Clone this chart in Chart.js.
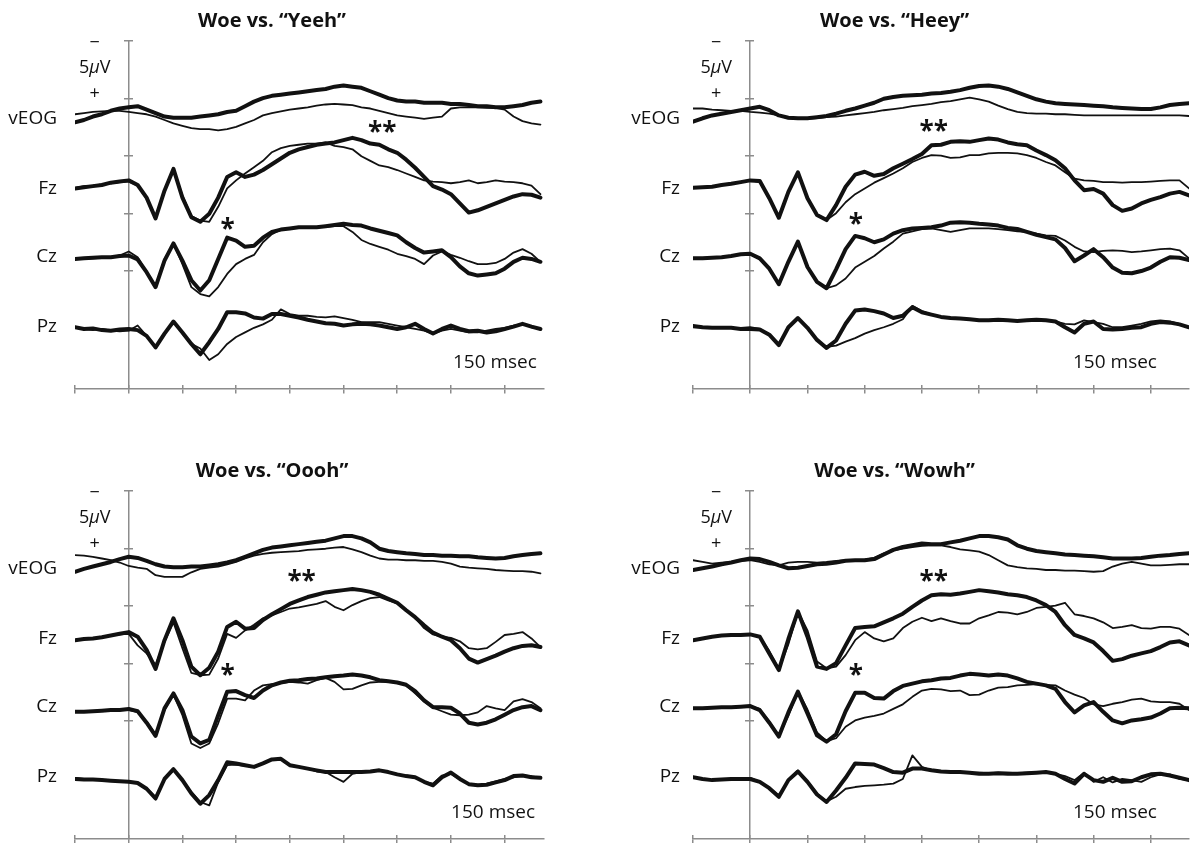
<!DOCTYPE html>
<html lang="en">
<head>
<meta charset="utf-8">
<title>Woe ERP comparisons</title>
<script src="https://cdn.jsdelivr.net/npm/chart.js@4.4.1/dist/chart.umd.min.js"></script>
<style>
  html, body { margin: 0; padding: 0; background: #fff; overflow: hidden; width: 1193px; height: 843px; }
  canvas { position: absolute; }
</style>
</head>
<body>
<canvas id="yeehChart" width="684" height="420" style="left:0;top:0"></canvas>
<canvas id="heeyChart" width="730" height="420" style="left:600px;top:0"></canvas>
<canvas id="ooohChart" width="684" height="420" style="left:0;top:450px"></canvas>
<canvas id="wowhChart" width="730" height="420" style="left:600px;top:450px"></canvas>
<script>
// time axis (msec from stimulus onset), one sample every 25 ms
const TIMES = [-150,-125,-100,-75,-50,-25,0,25,50,75,100,125,150,175,200,225,250,275,300,325,350,375,400,425,450,475,500,525,550,575,600,625,650,675,700,725,750,775,800,825,850,875,900,925,950,975,1000,1025,1050,1075,1100,1125,1150];
const TIME_TICKS = [-150, 0, 150, 300, 450, 600, 750, 900, 1050];
const SCALE_TICKS = [0, 5, 10, 15, 20];          // 5 µV apart
const CHANNELS = ["vEOG", "Fz", "Cz", "Pz"];

// µV, negative up.  thick = first condition, thin = second
const yeehVeogThick = [0.6,0.4,0.1,-0.1,-0.4,-0.6,-0.7,-0.8,-0.5,-0.2,0.1,0.2,0.2,0.2,0.1,0.0,-0.1,-0.3,-0.4,-0.8,-1.2,-1.5,-1.7,-1.8,-1.9,-2.0,-2.1,-2.2,-2.3,-2.5,-2.6,-2.5,-2.4,-2.1,-1.8,-1.5,-1.3,-1.2,-1.2,-1.1,-1.1,-1.1,-1.0,-1.0,-0.9,-0.8,-0.8,-0.7,-0.7,-0.8,-0.9,-1.1,-1.2];
const yeehVeogThin  = [-0.1,-0.2,-0.3,-0.35,-0.4,-0.4,-0.3,-0.2,-0.1,0.1,0.4,0.7,0.9,1.1,1.2,1.2,1.3,1.2,1.0,0.7,0.4,0.0,-0.2,-0.35,-0.5,-0.6,-0.7,-0.85,-0.95,-1.0,-0.95,-0.9,-0.7,-0.6,-0.4,-0.2,0.0,0.1,0.2,0.3,0.2,0.1,-0.6,-0.7,-0.7,-0.7,-0.65,-0.65,-0.5,0.1,0.5,0.7,0.8];
const yeehFzThick   = [0.4,0.3,0.2,0.1,-0.1,-0.2,-0.3,0.1,1.2,3.0,0.6,-1.3,1.2,2.9,3.3,2.6,1.2,-0.6,-1.0,-0.6,-0.8,-1.2,-1.7,-2.2,-2.7,-3.0,-3.2,-3.4,-3.5,-3.6,-3.8,-4.0,-3.8,-3.5,-3.4,-3.0,-2.7,-2.1,-1.4,-0.6,0.2,0.5,0.9,1.7,2.5,2.3,2.0,1.7,1.4,1.1,0.9,0.95,1.2];
const yeehFzThin    = [0.35,0.2,0.15,0.05,-0.05,-0.15,-0.2,0.15,1.3,2.9,0.7,-1.3,1.0,2.8,3.2,3.3,2.0,0.4,-0.3,-0.9,-1.45,-2.0,-2.75,-3.1,-3.3,-3.4,-3.5,-3.5,-3.6,-3.3,-3.2,-3.0,-2.4,-2.0,-1.6,-1.45,-1.2,-0.9,-0.6,-0.3,-0.2,-0.15,-0.05,-0.15,-0.3,-0.05,-0.15,-0.3,-0.2,-0.15,-0.05,0.15,0.9];
const yeehCzThick   = [0.15,0.1,0.05,0,0,-0.1,-0.15,0.2,1.3,2.6,0.3,-1.2,0.3,2.0,2.9,2.0,0.15,-1.7,-1.45,-0.9,-1.0,-1.7,-2.2,-2.4,-2.5,-2.6,-2.6,-2.6,-2.7,-2.8,-2.9,-2.8,-2.75,-2.5,-2.3,-2.1,-1.9,-1.3,-0.8,-0.4,-0.5,-0.6,0,0.8,1.4,1.6,1.5,1.4,1.0,0.4,0.05,0.15,0.4];
const yeehCzThin    = [0.15,0.15,0.1,0.05,0,-0.15,-0.5,0,1.3,2.5,0.15,-1.2,0.6,2.6,3.2,3.4,2.6,1.45,0.6,0.15,-0.2,-1.3,-2.0,-2.4,-2.5,-2.55,-2.6,-2.6,-2.65,-2.7,-2.7,-2.2,-1.5,-1.15,-0.9,-0.65,-0.3,-0.1,0.15,0.6,-0.15,-0.5,-0.2,0.05,0.35,0.6,0.6,0.5,0.15,-0.4,-0.7,-0.3,0.4];
const yeehPzThick   = [-0.15,0,-0.05,0.1,0.15,0.05,0,0.1,0.6,1.6,0.4,-0.65,0.3,1.3,2.2,1.15,0,-1.45,-1.45,-1.35,-1.0,-0.9,-1.3,-1.3,-1.15,-1.0,-0.8,-0.65,-0.5,-0.45,-0.3,-0.4,-0.45,-0.4,-0.3,-0.15,0,-0.15,-0.45,0,0.4,0,-0.3,0,0.2,0.15,0.3,0.2,0,-0.2,-0.45,-0.2,0];
const yeehPzThin    = [-0.1,0,0.1,0,0.15,0.2,0.15,-0.3,0.6,1.5,0.4,-0.6,0.4,1.3,1.7,2.7,2.2,1.3,0.7,0.3,-0.1,-0.4,-0.8,-1.7,-1.3,-1.15,-1.15,-1.05,-1.0,-1.1,-0.95,-0.8,-0.6,-0.6,-0.6,-0.45,-0.3,-0.15,0,0.15,0.4,0.15,0,0.15,0.3,0.3,0.15,0,-0.1,-0.3,-0.45,-0.15,0];

const heeyVeogThick = [0.55,0.25,0,-0.15,-0.3,-0.45,-0.6,-0.75,-0.45,0,0.2,0.25,0.25,0.15,0.05,-0.15,-0.4,-0.6,-0.85,-1.1,-1.45,-1.6,-1.7,-1.75,-1.8,-1.9,-1.95,-2.05,-2.2,-2.4,-2.55,-2.6,-2.5,-2.3,-2.0,-1.7,-1.4,-1.2,-1.05,-1.0,-0.95,-0.9,-0.85,-0.8,-0.7,-0.65,-0.6,-0.55,-0.55,-0.7,-0.9,-1.0,-1.05];
const heeyVeogThin  = [-0.6,-0.6,-0.5,-0.45,-0.4,-0.4,-0.3,-0.25,-0.15,0,0.25,0.3,0.3,0.25,0.15,0.1,0,-0.1,-0.2,-0.3,-0.45,-0.55,-0.65,-0.8,-0.9,-1.0,-1.15,-1.25,-1.4,-1.55,-1.4,-1.2,-0.85,-0.55,-0.3,-0.2,-0.15,-0.15,-0.1,-0.1,-0.05,0,0,0,0,0,0,0,0,0,0,0,0.05];
const heeyFzThick   = [0.35,0.3,0.25,0.1,0,-0.15,-0.3,-0.25,1.25,2.95,0.7,-1.0,1.25,2.7,3.15,1.85,0.25,-0.8,-1.05,-0.7,-0.85,-1.35,-1.75,-2.15,-2.6,-3.35,-3.4,-3.65,-3.7,-3.65,-3.8,-3.95,-3.85,-3.6,-3.45,-3.35,-2.9,-2.5,-2.05,-1.35,-0.3,0.55,0.45,0.85,1.85,2.35,2.15,1.7,1.4,1.15,0.85,0.7,1.0];
const heeyFzThin    = [0.35,0.3,0.25,0.1,0,-0.15,-0.3,-0.15,1.3,2.9,0.8,-0.95,1.2,2.65,3.15,2.55,1.6,0.9,0.4,-0.1,-0.5,-0.9,-1.35,-1.9,-2.25,-2.5,-2.45,-2.25,-2.3,-2.5,-2.5,-2.65,-2.7,-2.7,-2.65,-2.5,-2.25,-1.9,-1.6,-1.0,-0.45,-0.3,-0.25,-0.15,-0.15,-0.1,-0.15,-0.15,-0.2,-0.25,-0.3,-0.3,0.4];
const heeyCzThick   = [0.1,0.1,0.05,0,-0.1,-0.25,-0.3,0.1,1.0,2.35,0.4,-1.35,0.85,2.15,2.7,1.05,-0.7,-1.85,-1.65,-1.3,-1.55,-2.05,-2.35,-2.5,-2.55,-2.6,-2.75,-3.0,-3.05,-3.0,-2.9,-2.85,-2.75,-2.55,-2.45,-2.2,-1.95,-1.75,-1.55,-0.8,0.35,-0.15,-0.7,0,0.9,1.35,1.4,1.2,0.9,0.4,0,0.05,0.25];
const heeyCzThin    = [0.1,0.1,0.05,0,-0.1,-0.25,-0.3,0.1,0.95,2.3,0.45,-1.35,0.9,2.2,2.7,2.45,1.85,0.9,0.4,-0.1,-0.75,-1.35,-2.05,-2.25,-2.45,-2.5,-2.35,-2.2,-2.35,-2.5,-2.5,-2.5,-2.45,-2.35,-2.25,-2.2,-2.05,-1.9,-1.85,-1.45,-0.9,-0.5,-0.45,-0.55,-0.6,-0.55,-0.45,-0.5,-0.6,-0.7,-0.75,-0.6,0.1];
const heeyPzThick   = [-0.25,-0.15,-0.1,-0.1,-0.1,0,0,0.05,0.5,1.4,-0.15,-0.95,-0.1,0.95,1.65,1.0,-0.45,-1.6,-1.7,-1.55,-1.35,-0.95,-1.15,-1.9,-1.45,-1.25,-1.05,-0.95,-0.9,-0.85,-0.75,-0.75,-0.8,-0.75,-0.7,-0.75,-0.8,-0.75,-0.65,-0.15,0.3,-0.45,-0.65,0,0.05,0,-0.1,-0.15,-0.45,-0.6,-0.55,-0.4,-0.15];
const heeyPzThin    = [-0.15,-0.15,-0.1,-0.1,-0.1,-0.1,-0.15,0,0.45,1.25,-0.1,-0.9,-0.05,1.0,1.55,1.45,1.1,0.8,0.4,0.1,-0.15,-0.45,-0.85,-2.0,-1.55,-1.25,-1.05,-0.95,-0.9,-0.85,-0.75,-0.75,-0.75,-0.7,-0.7,-0.7,-0.75,-0.7,-0.65,-0.45,-0.4,-0.75,-0.6,-0.45,-0.15,-0.15,-0.3,-0.45,-0.65,-0.75,-0.65,-0.45,-0.15];

const ooohVeogThick = [0.55,0.3,0.1,-0.1,-0.3,-0.55,-0.75,-0.65,-0.4,-0.1,0.1,0.15,0.15,0.1,0.1,0,-0.1,-0.25,-0.45,-0.75,-1.05,-1.35,-1.55,-1.65,-1.75,-1.85,-1.95,-2.05,-2.15,-2.35,-2.55,-2.55,-2.35,-2.0,-1.45,-1.25,-1.15,-1.05,-1.0,-0.9,-0.9,-0.85,-0.85,-0.8,-0.8,-0.7,-0.65,-0.6,-0.65,-0.8,-0.9,-1.0,-1.05];
const ooohVeogThin  = [-0.9,-0.85,-0.75,-0.6,-0.45,-0.25,0.05,0.2,0.3,0.85,1.0,1.0,1.0,0.6,0.3,0.2,0.1,-0.1,-0.3,-0.6,-0.85,-1.0,-1.1,-1.15,-1.2,-1.25,-1.35,-1.4,-1.45,-1.55,-1.6,-1.4,-1.15,-0.85,-0.6,-0.5,-0.5,-0.45,-0.45,-0.4,-0.4,-0.3,-0.15,0.1,0.2,0.25,0.3,0.4,0.45,0.5,0.5,0.55,0.7];
const ooohFzThick   = [0.55,0.45,0.4,0.3,0.15,0,-0.15,0.25,1.4,3.05,0.55,-1.35,0.55,2.85,3.6,2.95,1.55,-0.6,-1.05,-0.45,-0.5,-1.2,-1.7,-2.15,-2.6,-2.9,-3.2,-3.4,-3.6,-3.7,-3.8,-3.9,-3.8,-3.65,-3.4,-3.05,-2.7,-2.05,-1.45,-0.75,-0.1,0.25,0.55,1.25,2.15,2.5,2.2,1.9,1.55,1.25,1.05,1.0,1.15];
const ooohFzThin    = [0.55,0.45,0.4,0.3,0.15,0.05,0,1.0,1.7,2.7,0.7,-1.0,1.25,3.4,3.6,3.55,2.15,0,0.35,-0.3,-0.8,-1.35,-1.6,-1.9,-2.2,-2.3,-2.45,-2.6,-2.85,-2.35,-2.05,-2.5,-2.85,-3.1,-3.2,-2.9,-2.65,-2.05,-1.4,-0.5,0.05,0.25,0.35,0.65,1.25,1.35,1.25,0.7,0.1,0,-0.15,0.4,1.15];
const ooohCzThick   = [0.4,0.4,0.35,0.3,0.25,0.25,0.15,0.35,1.35,2.5,0.1,-1.2,0.25,2.55,3.15,2.85,0.7,-1.35,-1.4,-1.05,-0.8,-1.45,-1.9,-2.15,-2.3,-2.35,-2.45,-2.5,-2.6,-2.7,-2.75,-2.85,-2.75,-2.6,-2.35,-2.25,-2.15,-1.95,-1.4,-0.6,0,0,0.05,0.55,1.35,1.5,1.35,1.05,0.65,0.25,0,-0.1,0.25];
const ooohCzThin    = [0.4,0.4,0.35,0.3,0.25,0.25,0.25,0.4,1.25,2.35,0.25,-1.1,0.7,3.15,3.55,3.15,1.4,-0.75,-0.75,-0.6,-1.45,-1.9,-2.0,-2.1,-2.2,-2.15,-2.05,-2.35,-2.55,-2.2,-1.55,-1.6,-1.9,-2.15,-2.2,-2.2,-2.15,-1.9,-1.2,-0.5,0.05,0.35,0.65,0.7,0.65,0.45,-0.1,0.1,0.25,-0.5,-0.7,-0.45,0.1];
const ooohPzThick   = [0,0.05,0.05,0.1,0.15,0.2,0.25,0.35,0.85,1.7,0,-0.85,0.1,1.25,2.15,1.4,0.1,-1.45,-1.35,-1.2,-1.05,-1.35,-1.7,-1.75,-1.2,-1.05,-0.9,-0.75,-0.6,-0.6,-0.6,-0.6,-0.6,-0.65,-0.75,-0.6,-0.4,-0.25,-0.15,0.25,0.55,-0.15,-0.55,0,0.45,0.55,0.5,0.3,0.1,-0.25,-0.3,-0.15,-0.1];
const ooohPzThin    = [-0.1,0,0.05,0.1,0.15,0.2,0.25,0.3,0.8,1.55,0.05,-0.75,0.05,1.15,2.0,2.3,0.25,-1.2,-1.25,-1.15,-1.05,-1.35,-1.7,-1.75,-1.2,-1.05,-0.9,-0.65,-0.6,-0.15,0.25,-0.45,-0.6,-0.65,-0.75,-0.6,-0.4,-0.25,-0.1,0.25,0.4,-0.3,-0.45,0.05,0.4,0.55,0.4,0.2,0,-0.15,-0.3,-0.25,-0.1];

const wowhVeogThick = [0.4,0.25,0.1,-0.1,-0.25,-0.45,-0.6,-0.55,-0.3,0,0.25,0.2,0.05,-0.1,-0.15,-0.25,-0.4,-0.45,-0.45,-0.55,-0.95,-1.35,-1.6,-1.75,-1.9,-1.85,-1.85,-2.0,-2.15,-2.35,-2.55,-2.55,-2.45,-2.25,-1.75,-1.45,-1.25,-1.15,-1.05,-0.95,-0.9,-0.85,-0.8,-0.7,-0.6,-0.6,-0.6,-0.65,-0.75,-0.85,-0.9,-1.0,-1.05];
const wowhVeogThin  = [-0.45,-0.3,-0.15,-0.25,-0.3,-0.4,-0.45,-0.3,-0.1,0,-0.25,-0.3,-0.3,-0.25,-0.3,-0.4,-0.45,-0.45,-0.5,-0.65,-1.05,-1.3,-1.45,-1.6,-1.7,-1.75,-1.75,-1.6,-1.4,-1.3,-1.2,-0.9,-0.45,0,0.15,0.25,0.3,0.4,0.4,0.45,0.45,0.5,0.55,0.5,0.1,-0.15,-0.3,-0.15,0,0,-0.05,-0.1,-0.1];
const wowhFzThick   = [0.55,0.4,0.25,0.15,0.1,0.1,0.05,0.25,1.7,3.15,0.45,-1.95,0.25,2.85,3.05,2.55,1.0,-0.5,-0.6,-0.65,-1.0,-1.35,-1.75,-2.35,-2.9,-3.35,-3.45,-3.4,-3.5,-3.65,-3.8,-3.7,-3.6,-3.45,-3.35,-3.2,-2.9,-2.5,-1.9,-0.75,0.1,0.4,0.75,1.5,2.35,2.2,1.9,1.7,1.5,1.15,0.75,0.65,1.0];
const wowhFzThin    = [0.55,0.4,0.25,0.15,0.1,0.1,0.05,0.25,1.5,3.1,0.9,-1.95,-0.3,2.4,3.0,2.85,1.85,0.55,-0.15,0.4,0.65,0.4,-0.5,-1.05,-1.4,-1.1,-1.35,-1.1,-0.9,-0.9,-1.35,-1.6,-1.9,-1.85,-1.7,-1.9,-2.25,-2.35,-2.45,-2.7,-1.7,-1.55,-1.35,-1.0,-0.5,-0.6,-0.75,-0.5,-0.45,-0.6,-0.6,-0.45,0.1];
const wowhCzThick   = [0.1,0.1,0.05,0,0,-0.05,-0.1,0.25,1.35,2.55,0.45,-1.35,0.55,2.45,3.0,2.35,0.35,-1.25,-1.25,-0.8,-0.75,-1.4,-1.85,-2.05,-2.25,-2.35,-2.5,-2.55,-2.75,-2.9,-2.85,-2.75,-2.85,-2.75,-2.5,-2.2,-2.05,-1.9,-1.6,-0.45,0.45,-0.15,-0.45,0.4,1.15,1.4,1.15,1.05,0.9,0.55,0.1,0.05,0.1];
const wowhCzThin    = [0.1,0.1,0.05,0,0,-0.05,-0.1,0.15,1.25,2.5,0.75,-1.4,0.2,2.2,2.95,2.7,1.7,1.15,0.9,0.75,0.55,0.15,-0.25,-0.9,-1.45,-1.6,-1.55,-1.4,-1.45,-1.05,-1.1,-1.45,-1.7,-1.75,-1.9,-1.95,-2.0,-1.95,-1.9,-1.45,-1.1,-0.8,-0.25,-0.1,-0.3,-0.45,-0.65,-0.75,-0.5,-0.45,-0.45,-0.3,0.25];
const wowhPzThick   = [-0.15,0,0.1,0.05,0,0,0,0.25,0.8,1.55,0.1,-0.65,0.25,1.35,2.0,1.0,-0.1,-1.35,-1.3,-1.25,-0.95,-0.6,-0.55,-0.9,-0.9,-0.75,-0.65,-0.6,-0.6,-0.55,-0.45,-0.45,-0.5,-0.45,-0.45,-0.5,-0.55,-0.6,-0.45,0,0.4,-0.45,0.1,0.25,-0.1,0.25,0.2,-0.15,-0.4,-0.45,-0.3,-0.1,0.1];
const wowhPzThin    = [-0.15,0,0.1,0.05,0,0,-0.1,0.25,0.75,1.45,0.15,-0.75,0.2,1.25,1.95,1.55,0.85,0.7,0.6,0.55,0.5,0.4,0,-2.05,-1.05,-0.75,-0.65,-0.6,-0.55,-0.55,-0.55,-0.5,-0.55,-0.55,-0.5,-0.55,-0.6,-0.55,-0.45,-0.25,0.1,-0.55,0.25,-0.15,0.3,0,0.1,0.25,-0.15,-0.4,-0.4,0,0.1];

// vertical layout in µV from the top tick of the scale bar
const Y_MAX = 30.26;
const BASELINE = [6.47, 12.42, 18.80, 25.04];
const LABEL_AT = [6.78, 12.87, 18.78, 24.87];

const INK = "#111";
const AXIS = "#8c8c8c";
const FONT = '"Open Sans", "DejaVu Sans", sans-serif';

const PANELS = [
  { id: "yeehChart", title: "Woe vs. \u201cYeeh\u201d",
    series: [[yeehVeogThick, yeehVeogThin], [yeehFzThick, yeehFzThin], [yeehCzThick, yeehCzThin], [yeehPzThick, yeehPzThin]],
    xMax: 1160, labelW: 75, labelPad: 18, padRight: 140, doubleStar: [708, 7.49], star: [276, 15.96], msecAt: 1140 },
  { id: "heeyChart", title: "Woe vs. \u201cHeey\u201d",
    series: [[heeyVeogThick, heeyVeogThin], [heeyFzThick, heeyFzThin], [heeyCzThick, heeyCzThin], [heeyPzThick, heeyPzThin]],
    xMax: 1150, labelW: 93, labelPad: 13, padRight: 141, doubleStar: [481, 7.46], star: [277, 15.5], msecAt: 1066 },
  { id: "ooohChart", title: "Woe vs. \u201cOooh\u201d",
    series: [[ooohVeogThick, ooohVeogThin], [ooohFzThick, ooohFzThin], [ooohCzThick, ooohCzThin], [ooohPzThick, ooohPzThin]],
    xMax: 1160, labelW: 75, labelPad: 18, padRight: 140, doubleStar: [483, 7.46], star: [276, 15.6], msecAt: 1135 },
  { id: "wowhChart", title: "Woe vs. \u201cWowh\u201d",
    series: [[wowhVeogThick, wowhVeogThin], [wowhFzThick, wowhFzThin], [wowhCzThick, wowhCzThin], [wowhPzThick, wowhPzThin]],
    xMax: 1150, labelW: 93, labelPad: 13, padRight: 141, doubleStar: [481, 7.46], star: [277, 15.6], msecAt: 1066 }
];

// scale bar text, significance marks and the time label
const panelNotes = {
  id: "panelNotes",
  afterDraw(chart, args, opts) {
    const { ctx } = chart;
    const x = chart.scales.x, y = chart.scales.y;
    const bx = x.getPixelForValue(0) - 34;
    ctx.save();
    ctx.fillStyle = INK;
    ctx.textBaseline = "middle";
    ctx.textAlign = "center";
    ctx.font = `18px ${FONT}`;
    ctx.fillText("\u2212", bx, y.getPixelForValue(0.2));
    ctx.fillText("+", bx, y.getPixelForValue(4.6));

    const parts = [["5", `18px ${FONT}`], ["\u03bc", `italic 18px ${FONT}`], ["V", `18px ${FONT}`]];
    let w = 0;
    parts.forEach(([t, f]) => { ctx.font = f; w += ctx.measureText(t).width; });
    let px = bx - w / 2;
    ctx.textAlign = "left";
    parts.forEach(([t, f]) => {
      ctx.font = f;
      ctx.fillText(t, px, y.getPixelForValue(2.35));
      px += ctx.measureText(t).width;
    });

    ctx.textAlign = "center";
    ctx.font = `bold 26px ${FONT}`;
    ctx.fillText("**", x.getPixelForValue(opts.doubleStar[0]), y.getPixelForValue(opts.doubleStar[1]) + 6);
    ctx.fillText("*", x.getPixelForValue(opts.star[0]), y.getPixelForValue(opts.star[1]) + 6);

    ctx.textAlign = "right";
    ctx.font = `19px ${FONT}`;
    ctx.fillText("150 msec", x.getPixelForValue(opts.msecAt), y.getPixelForValue(28));
    ctx.restore();
  }
};

function buildDatasets(series) {
  const out = [];
  series.forEach((pair, i) => {
    const [thick, thin] = pair;
    const line = (vals, width) => ({
      data: vals.map((v, k) => ({ x: TIMES[k], y: BASELINE[i] + v })),
      xAxisID: "x", yAxisID: "y",
      borderColor: INK, borderWidth: width,
      borderJoinStyle: "round", borderCapStyle: "round",
      pointRadius: 0, tension: 0, fill: false
    });
    out.push(line(thick, 4));
    out.push(line(thin, 1.8));
  });
  return out;
}

function makeChart(p) {
  const timeTicks = s => { s.ticks = TIME_TICKS.map(v => ({ value: v })); };
  const scaleTicks = s => { s.ticks = SCALE_TICKS.map(v => ({ value: v })); };
  const axisGrid = len => ({ drawOnChartArea: false, drawTicks: true, tickLength: len, color: AXIS, lineWidth: 1.5 });

  return new Chart(document.getElementById(p.id), {
    type: "line",
    data: { datasets: buildDatasets(p.series) },
    options: {
      responsive: false,
      animation: false,
      events: [],
      layout: { padding: { left: 0, right: p.padRight, top: 0, bottom: 31 } },
      plugins: {
        legend: { display: false },
        tooltip: { enabled: false },
        title: {
          display: true, text: p.title, color: INK,
          font: { family: FONT, size: 20, weight: "bold" },
          padding: { top: 9, bottom: 8 }
        },
        panelNotes: { doubleStar: p.doubleStar, star: p.star, msecAt: p.msecAt }
      },
      scales: {
        x: {
          type: "linear", min: -150, max: p.xMax, position: { y: Y_MAX },
          afterBuildTicks: timeTicks, ticks: { display: false },
          grid: axisGrid(4), border: { color: AXIS, width: 1.5 }
        },
        xUp: {
          axis: "x", type: "linear", min: -150, max: p.xMax, position: { y: Y_MAX },
          afterBuildTicks: timeTicks, ticks: { display: false },
          grid: axisGrid(-4), border: { display: false }
        },
        y: {
          type: "linear", min: 0, max: Y_MAX, reverse: true, position: { x: 0 },
          afterBuildTicks: scaleTicks, ticks: { display: false },
          grid: axisGrid(4), border: { color: AXIS, width: 1.5 }
        },
        yRight: {
          axis: "y", type: "linear", min: 0, max: Y_MAX, reverse: true, position: { x: 0 },
          afterBuildTicks: scaleTicks, ticks: { display: false },
          grid: axisGrid(-4), border: { display: false }
        },
        lab: {
          axis: "y", type: "linear", position: "left", min: 0, max: Y_MAX, reverse: true,
          afterBuildTicks: s => { s.ticks = LABEL_AT.map(v => ({ value: v })); },
          afterFit: s => { s.width = p.labelW; },
          ticks: {
            autoSkip: false, padding: p.labelPad, color: INK,
            font: { family: FONT, size: 19 },
            callback: (v, i) => CHANNELS[i]
          },
          grid: { display: false, drawTicks: false },
          border: { display: false }
        }
      }
    },
    plugins: [panelNotes]
  });
}

PANELS.forEach(makeChart);
</script>
</body>
</html>
